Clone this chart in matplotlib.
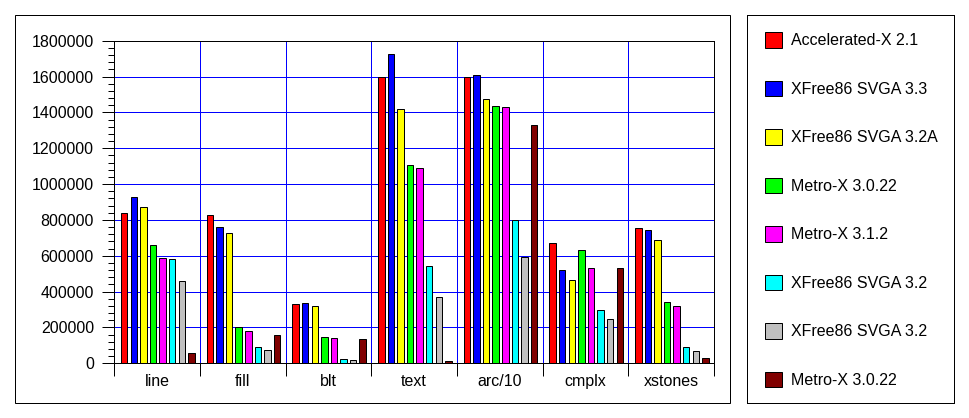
import numpy as np
import matplotlib.pyplot as plt
from matplotlib.ticker import MultipleLocator, FormatStrFormatter
from matplotlib.patches import Rectangle

plt.rcParams['font.family'] = ['Liberation Sans', 'DejaVu Sans']

categories = ["line", "fill", "blt", "text", "arc/10", "cmplx", "xstones"]

series_names = ["Accelerated-X 2.1", "XFree86 SVGA 3.3", "XFree86 SVGA 3.2A",
                "Metro-X 3.0.22", "Metro-X 3.1.2", "XFree86 SVGA 3.2",
                "XFree86 SVGA 3.2", "Metro-X 3.0.22"]
series_colors = ["#ff0000", "#0000ff", "#ffff00", "#00ff00",
                 "#ff00ff", "#00ffff", "#c0c0c0", "#800000"]

accel_21 = [840000, 830000, 330000, 1600000, 1600000, 669000, 753000]
xf_33 = [930000, 760000, 335000, 1725000, 1607000, 519000, 742000]
xf_32a = [870000, 725000, 318000, 1417000, 1473000, 463000, 686000]
metro_3022 = [660000, 200000, 145000, 1105000, 1434000, 630000, 340000]
metro_312 = [590000, 178000, 139000, 1088000, 1428000, 530000, 318000]
xf_32 = [580000, 90000, 22000, 541000, 798000, 296000, 89000]
xf_32b = [460000, 74000, 17000, 368000, 591000, 245000, 67000]
metro_3022b = [57000, 156000, 134000, 11000, 1328000, 530000, 28000]

series = [accel_21, xf_33, xf_32a, metro_3022, metro_312, xf_32, xf_32b, metro_3022b]

px = 0.72  # one pixel in points at dpi 100
fsize = 11.5

fig = plt.figure(figsize=(9.69, 4.18), dpi=100)

# outer frame round the chart
fig.patches.append(Rectangle((15 / 969, 15 / 418), 715 / 969, 388 / 418,
                             transform=fig.transFigure, fill=False,
                             edgecolor='black', linewidth=px))

ax = fig.add_axes([114.3 / 969, 54.7 / 418, 599.7 / 969, 322.6 / 418])

x = np.arange(len(categories))
slot = 0.112
width = 0.076
first = -0.384
bars = []
for i, (vals, col) in enumerate(zip(series, series_colors)):
    b = ax.bar(x + first + i * slot, vals, width=width, color=col,
               edgecolor='black', linewidth=px, zorder=3, label=series_names[i])
    bars.append(b)

ax.set_xlim(-0.5, len(categories) - 0.5)
ax.set_ylim(0, 1800000)

ax.yaxis.set_major_locator(MultipleLocator(200000))
ax.yaxis.set_minor_locator(MultipleLocator(40000))
ax.yaxis.set_major_formatter(FormatStrFormatter('%d'))
ax.tick_params(axis='y', which='major', length=12 * px, width=px, pad=6,
               labelsize=fsize)
ax.tick_params(axis='y', which='minor', length=6 * px, width=px)

ax.set_xticks(np.arange(len(categories) + 1) - 0.5)
ax.set_xticklabels([])
ax.set_xticks(x, minor=True)
ax.set_xticklabels(categories, minor=True)
ax.tick_params(axis='x', which='major', length=12.5 * px, width=px)
ax.tick_params(axis='x', which='minor', length=0, pad=8, labelsize=fsize)

ax.grid(True, which='major', color='#0000ff', linewidth=px, zorder=0)
ax.set_axisbelow(True)
for s in ax.spines.values():
    s.set_linewidth(px)
    s.set_zorder(4)

# legend box
lax = fig.add_axes([747 / 969, 15 / 418, 207 / 969, 388 / 418])
lax.set_xticks([])
lax.set_yticks([])
for s in lax.spines.values():
    s.set_linewidth(px)
lax.legend(handles=bars, labels=series_names, loc='upper left',
           bbox_to_anchor=(0.055, 0.972), frameon=False, fontsize=fsize,
           handlelength=1.1, handleheight=1.1, handletextpad=0.55,
           labelspacing=2.03, borderaxespad=0)

fig.savefig("out.png", dpi=100)
